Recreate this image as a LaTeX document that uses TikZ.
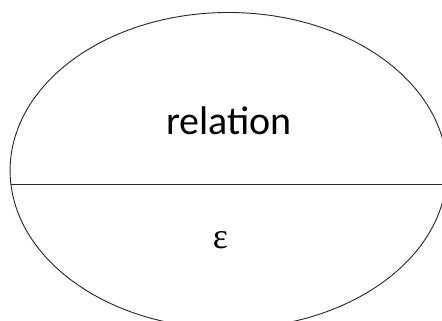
\documentclass[tikz,border=0pt]{standalone}
\usepackage{fontspec}
\newfontfamily\calibfont{Carlito}
\newfontfamily\greekserif{Liberation Serif}
\usetikzlibrary{shapes.geometric}
\begin{document}
\begin{tikzpicture}[x=1pt,y=1pt,
  outline/.style={draw=black!85,line width=0.9pt},
  bigtext/.style={font=\calibfont\fontsize{40}{48}\selectfont,inner sep=0pt},
  symtext/.style={font=\greekserif\fontsize{36}{42}\selectfont,inner sep=0pt}]
\useasboundingbox (0,0) rectangle (442,-321);
\clip (0,0) rectangle (442,-321);
\fill[white] (0,0) rectangle (442,-321);
\node[ellipse,outline,minimum width=436.8pt,minimum height=316pt,inner sep=0pt] (oval) at (228.5,-170.5) {};
\coordinate (lft) at (10.9,-184);
\coordinate (rgt) at (446.1,-184);
\draw[outline] (lft) -- (rgt);
\node[bigtext,anchor=base] (rel) at (229,-134.5) {relation};
\node[symtext,anchor=center] (eps) at (220.5,-240.5) {ε};
\end{tikzpicture}
\end{document}
